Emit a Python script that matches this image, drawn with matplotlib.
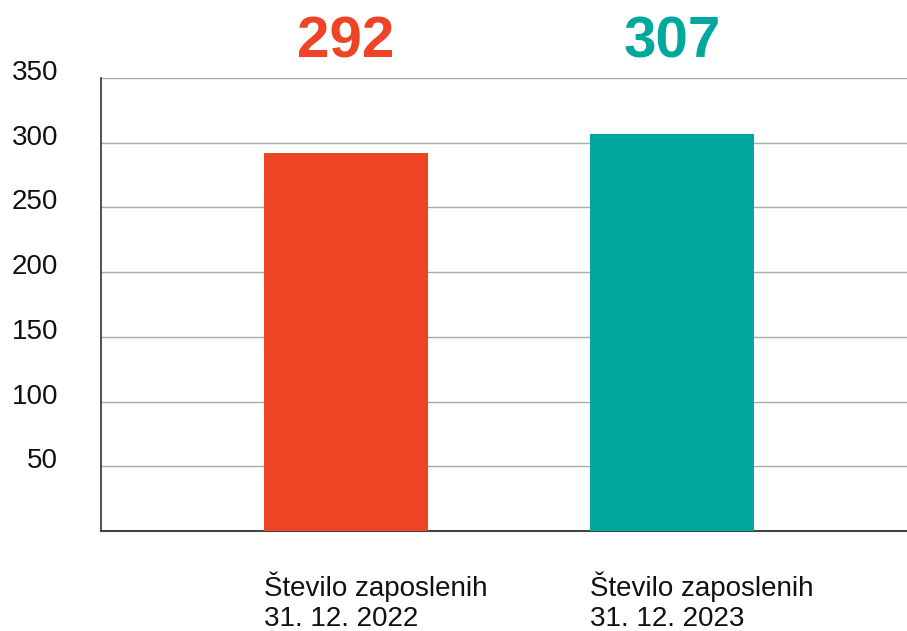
import matplotlib.pyplot as plt
from matplotlib.transforms import offset_copy, blended_transform_factory

plt.rcParams['font.family'] = ['Liberation Sans', 'DejaVu Sans']

categories = ["Število zaposlenih\n31. 12. 2022", "Število zaposlenih\n31. 12. 2023"]
values = [292, 307]
colors = ["#EE4426", "#00A89D"]
yticks = [50, 100, 150, 200, 250, 300, 350]

fig = plt.figure(figsize=(9.07, 6.31), dpi=100)
ax = fig.add_axes([101 / 907, 1 - 531 / 631, 806 / 907, 453 / 631])

x = list(range(len(values)))
ax.bar(x, values, width=0.503, color=colors, zorder=3)

ax.set_xlim(-0.752, 1.721)
ax.set_ylim(0, 350)
ax.set_yticks(yticks)
ax.yaxis.grid(True, color="#a8a8a8", linewidth=1, zorder=0)
ax.tick_params(axis="y", length=0, labelsize=20, pad=31, labelcolor="#111111")
for lab in ax.get_yticklabels():
    lab.set_transform(offset_copy(lab.get_transform(), fig=fig, y=8, units="dots"))
ax.set_xticks([])

for s in ["top", "right"]:
    ax.spines[s].set_visible(False)
ax.spines["left"].set_color("#333333")
ax.spines["bottom"].set_color("#444444")
ax.spines["left"].set_linewidth(1.2)
ax.spines["bottom"].set_linewidth(1.5)

trans = blended_transform_factory(ax.transData, fig.transFigure)

# value labels above the plot
for xi, v, c in zip(x, values, colors):
    ax.text(xi, 1 - 57 / 631, str(v), transform=trans,
            ha="center", va="baseline", fontsize=42, fontweight="bold", color=c)

# category labels below, left aligned to bar edge
for xi, cat in zip(x, categories):
    ax.text(xi - 0.2515, 1 - 571 / 631, cat, transform=trans,
            ha="left", va="top", fontsize=20, color="#111111", linespacing=1.25)

fig.savefig("out.png", dpi=100)
